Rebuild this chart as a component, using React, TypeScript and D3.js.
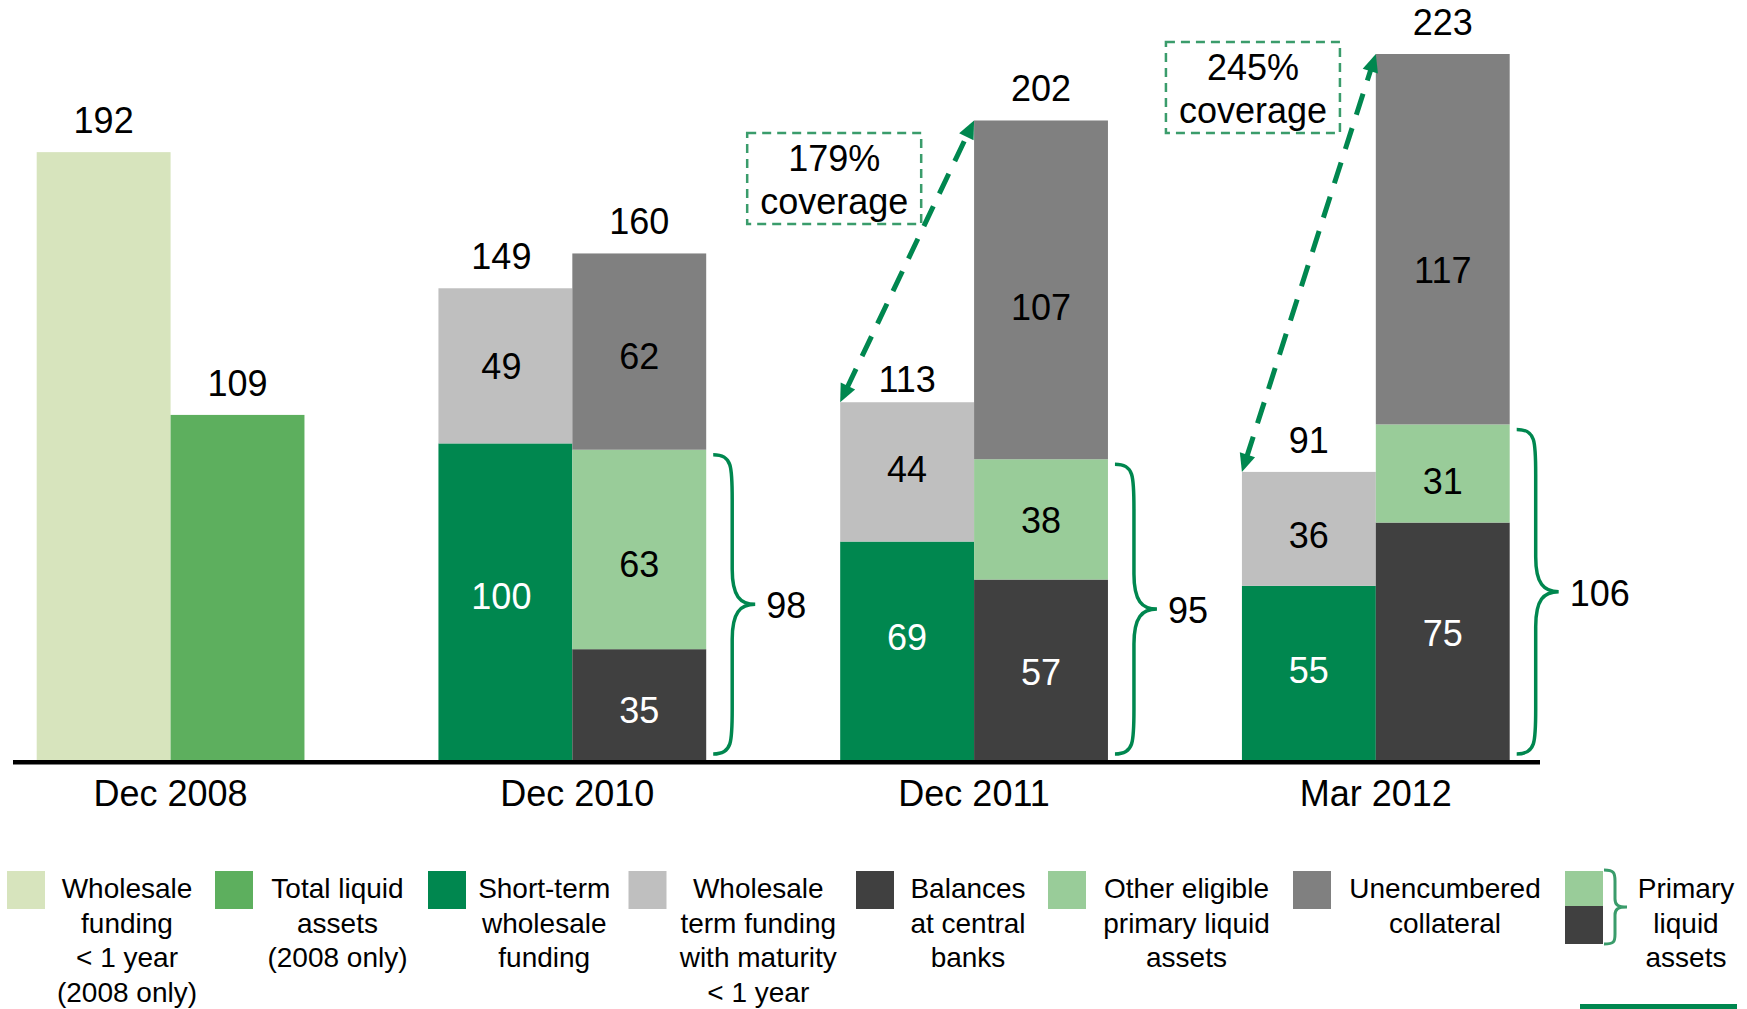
import React from "react";
import * as d3 from "d3";

// ---------- data ----------
const categories = ["Dec 2008", "Dec 2010", "Dec 2011", "Mar 2012"];
const wholesaleFunding2008 = [192, 0, 0, 0];
const totalLiquidAssets2008 = [109, 0, 0, 0];
const shortTermWholesale = [0, 100, 69, 55];
const wholesaleTermFunding = [0, 49, 44, 36];
const balancesAtCentralBanks = [0, 35, 57, 75];
const otherEligiblePrimary = [0, 63, 38, 31];
const unencumberedCollateral = [0, 62, 107, 117];
const coverageCategories = ["Dec 2011", "Mar 2012"];

const legendLabels = [
  ["Wholesale", "funding", "< 1 year", "(2008 only)"],
  ["Total liquid", "assets", "(2008 only)"],
  ["Short-term", "wholesale", "funding"],
  ["Wholesale", "term funding", "with maturity", "< 1 year"],
  ["Balances", "at central", "banks"],
  ["Other eligible", "primary liquid", "assets"],
  ["Unencumbered", "collateral"],
  ["Primary", "liquid", "assets"],
];

// ---------- styles ----------
const C = {
  wf: "#D7E4BD",
  tla: "#5DAF5E",
  st: "#00874F",
  wt: "#BFBFBF",
  bal: "#404040",
  oe: "#99CC99",
  unc: "#808080",
  brace: "#00874F",
  dashBox: "#3A9C6B",
};

const leftKeys = ["wf", "st", "wt"];
const rightKeys = ["tla", "bal", "oe", "unc"];
const whiteText = new Set(["st", "bal"]);

const rows = categories.map((cat, i) => ({
  cat,
  wf: wholesaleFunding2008[i],
  tla: totalLiquidAssets2008[i],
  st: shortTermWholesale[i],
  wt: wholesaleTermFunding[i],
  bal: balancesAtCentralBanks[i],
  oe: otherEligiblePrimary[i],
  unc: unencumberedCollateral[i],
}));

const FONT = "'Liberation Sans', Arial, Helvetica, sans-serif";

// layout nudges for hand-placed labels in the original (baseline offset from segment centre)
const segLabelBaseline: Record<string, number> = {
  "Dec 2010|wt": 13.4,
  "Dec 2010|st": 7.6,
  "Dec 2010|unc": 17.7,
  "Dec 2010|oe": 27.3,
  "Dec 2010|bal": 18,
  "Dec 2011|wt": 9.7,
  "Dec 2011|st": -0.8,
  "Dec 2011|unc": 30,
  "Dec 2011|oe": 14,
  "Dec 2011|bal": 15.2,
  "Mar 2012|wt": 19.4,
  "Mar 2012|st": 10.3,
  "Mar 2012|unc": 43.5,
  "Mar 2012|oe": 20.5,
  "Mar 2012|bal": 4.7,
};
const totalLabelGap: Record<string, number> = { "Dec 2011|left": 10 };
const leftLabelDx: Record<string, number> = { "Dec 2010": -4 };
const catLabelDx: Record<string, number> = { "Dec 2010": 5 };

function bracePath(x: number, top: number, bot: number) {
  const mid = (top + bot) / 2;
  const s = x + 19;
  const p = x + 42;
  return `M${x},${top} C${s},${top} ${s},${top + 12} ${s},${top + 45} L${s},${mid - 35} C${s},${mid - 8} ${s + 8},${mid} ${p},${mid} C${s + 8},${mid} ${s},${mid + 8} ${s},${mid + 35} L${s},${bot - 45} C${s},${bot - 12} ${s},${bot} ${x},${bot}`;
}

function arrowHead(tx: number, ty: number, ux: number, uy: number, len = 18, half = 8) {
  const bx = tx - ux * len;
  const by = ty - uy * len;
  const px = -uy;
  const py = ux;
  return `M${tx},${ty} L${bx + px * half},${by + py * half} L${bx - px * half},${by - py * half} Z`;
}

export default function App() {
  const W = 1747;
  const H = 1009;
  const baseY = 760;

  const x0 = d3
    .scaleBand<string>()
    .domain(categories)
    .range([36.7, 1509.7])
    .paddingInner(0.3335)
    .paddingOuter(0);
  const bw = x0.bandwidth();
  const x1 = d3.scaleBand<string>().domain(["left", "right"]).range([0, bw]).padding(0);
  const y = d3.scaleLinear().domain([0, 223]).range([baseY, 54]);

  const leftStack = d3.stack<any>().keys(leftKeys)(rows);
  const rightStack = d3.stack<any>().keys(rightKeys)(rows);

  const stacks = [
    { side: "left", series: leftStack },
    { side: "right", series: rightStack },
  ];

  const totals = (side: string, i: number) =>
    (side === "left" ? leftKeys : rightKeys).reduce((a, k) => a + (rows[i] as any)[k], 0);
  const nonZeroCount = (side: string, i: number) =>
    (side === "left" ? leftKeys : rightKeys).filter((k) => (rows[i] as any)[k] > 0).length;

  const legendSwatchX = [7, 215, 428, 628.5, 856, 1048, 1293, 1565];
  const legendColors = [C.wf, C.tla, C.st, C.wt, C.bal, C.oe, C.unc];
  const legendTextCenter = legendSwatchX.map((sx, i) => {
    const left = sx + 38;
    const right = i < legendSwatchX.length - 1 ? legendSwatchX[i + 1] : W + 28;
    return (left + right) / 2 - 3;
  });

  const coverageLayout: Record<string, { dx: number; top: number }> = {
    "Dec 2011": { dx: -93, top: 133 },
    "Mar 2012": { dx: -76, top: 42 },
  };

  return (
    <svg
      width={W}
      height={H}
      style={{ position: "absolute", left: 0, top: 0, display: "block", background: "#fff" }}
      fontFamily={FONT}
    >
      {/* bars */}
      {stacks.map(({ side, series }) =>
        series.map((s: any) =>
          s.map((d: any, i: number) => {
            const v = d[1] - d[0];
            if (v <= 0) return null;
            const cat = categories[i];
            const bx = (x0(cat) as number) + (x1(side) as number);
            const yTop = y(d[1]);
            const yBot = y(d[0]);
            const showLabel = nonZeroCount(side, i) > 1;
            const off = segLabelBaseline[`${cat}|${s.key}`] ?? 12;
            const dx = side === "left" ? leftLabelDx[cat] ?? 0 : 0;
            return (
              <g key={`${side}-${s.key}-${cat}`}>
                <rect x={bx} y={yTop} width={x1.bandwidth()} height={yBot - yTop} fill={(C as any)[s.key]} />
                {showLabel && (
                  <text
                    x={bx + x1.bandwidth() / 2 + dx}
                    y={(yTop + yBot) / 2 + off}
                    textAnchor="middle"
                    fontSize={36}
                    fill={whiteText.has(s.key) ? "#fff" : "#000"}
                  >
                    {v}
                  </text>
                )}
              </g>
            );
          })
        )
      )}

      {/* totals */}
      {categories.map((cat, i) =>
        ["left", "right"].map((side) => {
          const t = totals(side, i);
          const gap = totalLabelGap[`${cat}|${side}`] ?? 19;
          const dx = side === "left" ? leftLabelDx[cat] ?? 0 : 0;
          return (
            <text
              key={`tot-${cat}-${side}`}
              x={(x0(cat) as number) + (x1(side) as number) + x1.bandwidth() / 2 + dx}
              y={y(t) - gap}
              textAnchor="middle"
              fontSize={36}
              fill="#000"
            >
              {t}
            </text>
          );
        })
      )}

      {/* braces for primary liquid assets */}
      {categories.map((cat, i) => {
        const primary = balancesAtCentralBanks[i] + otherEligiblePrimary[i];
        if (primary <= 0) return null;
        const bx = (x0(cat) as number) + bw + 7;
        const top = y(primary) + 5;
        const bot = baseY - 6;
        const mid = (top + bot) / 2;
        return (
          <g key={`brace-${cat}`}>
            <path d={bracePath(bx, top, bot)} fill="none" stroke={C.brace} strokeWidth={3.5} />
            <text x={bx + 53} y={mid + 14} fontSize={36} fill="#000">
              {primary}
            </text>
          </g>
        );
      })}

      {/* axis baseline */}
      <line x1={13} x2={1540} y1={baseY + 2.3} y2={baseY + 2.3} stroke="#000" strokeWidth={4.6} />

      {/* category labels */}
      {categories.map((cat) => (
        <text
          key={`lab-${cat}`}
          x={(x0(cat) as number) + bw / 2 + (catLabelDx[cat] ?? 0)}
          y={805.5}
          textAnchor="middle"
          fontSize={36}
          fill="#000"
        >
          {cat}
        </text>
      ))}

      {/* coverage arrows + boxes */}
      {coverageCategories.map((cat) => {
        const i = categories.indexOf(cat);
        const lt = totals("left", i);
        const rt = totals("right", i);
        const sx = x0(cat) as number;
        const sy = y(lt);
        const ex = sx + (x1("right") as number);
        const ey = y(rt);
        const dx = ex - sx;
        const dy = ey - sy;
        const len = Math.hypot(dx, dy);
        const ux = dx / len;
        const uy = dy / len;
        const inset = 15;
        const lay = coverageLayout[cat];
        const boxX = sx + lay.dx;
        const boxW = 174;
        const boxH = 91;
        const pct = Math.round((rt / lt) * 100);
        return (
          <g key={`cov-${cat}`}>
            <line
              x1={sx + ux * inset}
              y1={sy + uy * inset}
              x2={ex - ux * inset}
              y2={ey - uy * inset}
              stroke={C.st}
              strokeWidth={5}
              strokeDasharray="22 14"
            />
            <path d={arrowHead(ex, ey, ux, uy)} fill={C.st} />
            <path d={arrowHead(sx, sy, -ux, -uy)} fill={C.st} />
            <rect
              x={boxX}
              y={lay.top}
              width={boxW}
              height={boxH}
              fill="none"
              stroke={C.dashBox}
              strokeWidth={2.5}
              strokeDasharray="9 6"
            />
            <text x={boxX + boxW / 2} y={lay.top + 38} textAnchor="middle" fontSize={36} fill="#000">
              {pct}%
            </text>
            <text x={boxX + boxW / 2} y={lay.top + 80.5} textAnchor="middle" fontSize={36} fill="#000">
              coverage
            </text>
          </g>
        );
      })}

      {/* legend */}
      {legendLabels.map((lines, i) => (
        <g key={`leg-${i}`}>
          {i < 7 ? (
            <rect x={legendSwatchX[i]} y={871} width={38} height={38} fill={legendColors[i]} />
          ) : (
            <g>
              <rect x={legendSwatchX[i]} y={871} width={38} height={35} fill={C.oe} />
              <rect x={legendSwatchX[i]} y={906} width={38} height={38} fill={C.bal} />
              <path
                d={`M1604,870 C1614,870 1615,873 1615,881 L1615,899 C1615,905 1618,907 1627,907 C1618,907 1615,909 1615,915 L1615,934 C1615,942 1614,944 1604,944`}
                fill="none"
                stroke={C.dashBox}
                strokeWidth={3}
              />
            </g>
          )}
          <text textAnchor="middle" fontSize={28} fill="#000">
            {lines.map((ln, j) => (
              <tspan key={j} x={legendTextCenter[i]} y={898 + j * 34.7}>
                {ln}
              </tspan>
            ))}
          </text>
        </g>
      ))}
      <rect x={1580} y={1004} width={157} height={5} fill={C.st} />
    </svg>
  );
}
